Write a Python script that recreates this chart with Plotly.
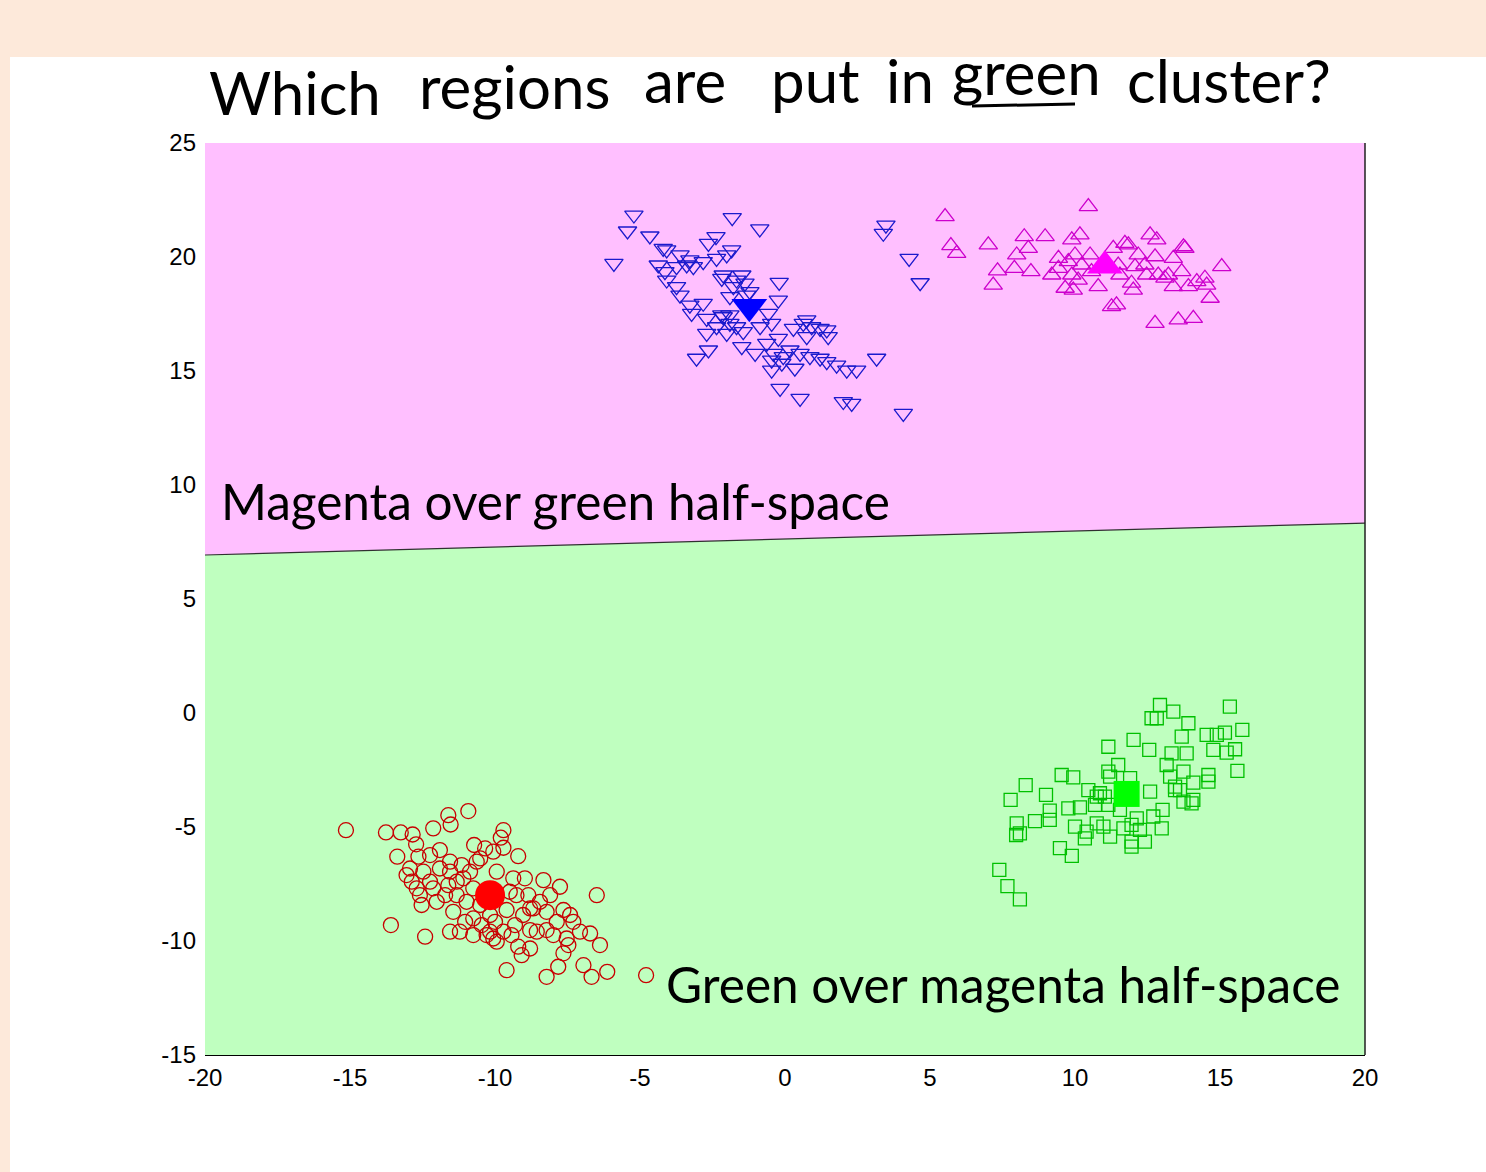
import plotly.graph_objects as go

# ---------------- data ----------------
x_ticks = [-20, -15, -10, -5, 0, 5, 10, 15, 20]
x_tick_labels = ["-20", "-15", "-10", "-5", "0", "5", "10", "15", "20"]
y_ticks = [-15, -10, -5, 0, 5, 10, 15, 20, 25]
y_tick_labels = ["-15", "-10", "-5", "0", "5", "10", "15", "20", "25"]

# decision boundary (magenta vs green half-spaces)
boundary_x = [-20, 20]
boundary_y = [6.93, 8.33]

blue_x = [-5.21, -5.43, -5.90, -4.66, -1.82, -0.87, 3.48, 3.39, 4.28, 4.66, -0.20, -0.23,
          -2.38, -2.64, -4.20, -4.08, -3.62, -3.28, -2.82, -1.84, -2.01, -2.36, -4.37, -4.14,
          -4.08, -3.74, -3.62, -3.28, -2.82, -3.22, -2.70, -2.18, -2.13, -1.49, -1.38, -1.21,
          -1.90, -2.13, -1.90, -1.67, -1.44, -2.36, -2.70, -2.01, -1.49, -1.03, -0.57, -0.46,
          -0.23, -0.63, -0.40, -0.46, -0.11, -0.46, -0.17, 0.34, 0.52, 0.29, 0.63, 0.75,
          0.92, 1.21, 1.44, 1.49, 0.75, 0.52, 0.86, 1.21, 1.44, 1.78, 2.13, 2.47,
          3.16, 2.01, 2.30, 4.08, -3.05, -2.64, -3.74, -3.39, -3.16, -1.67, -1.78, -1.32,
          -2.18, -1.90, -0.86, -0.06, 0.17]
blue_y = [21.84, 21.14, 19.72, 20.92, 21.73, 21.23, 21.40, 21.04, 19.94, 18.87, 18.89, 18.11,
          20.89, 20.60, 20.38, 20.31, 20.09, 19.87, 19.80, 20.31, 20.09, 19.94, 19.65, 19.36,
          18.99, 18.70, 18.33, 17.89, 17.97, 17.53, 17.31, 19.06, 19.21, 19.21, 18.85, 18.48,
          18.26, 17.38, 17.09, 16.94, 16.73, 16.94, 16.65, 16.65, 16.07, 15.77, 17.53, 17.09,
          16.43, 16.21, 15.77, 15.48, 15.34, 15.04, 14.24, 15.12, 13.80, 16.87, 17.09, 17.24,
          16.94, 16.87, 16.80, 16.51, 16.51, 15.77, 15.63, 15.56, 15.41, 15.26, 15.04, 15.04,
          15.56, 13.66, 13.58, 13.14, 15.56, 15.92, 19.58, 19.65, 19.58, 18.99, 18.70, 18.33,
          17.46, 17.46, 16.94, 15.63, 15.92]

magenta_x = [10.46, 5.52, 5.72, 5.92, 7.01, 7.33, 7.18, 8.25, 8.97, 8.39, 7.99, 7.91,
             8.48, 9.89, 10.17, 9.43, 9.20, 9.66, 9.94, 10.00, 10.52, 10.57, 10.80, 9.89,
             10.23, 11.32, 11.72, 11.84, 12.18, 12.59, 12.82, 12.76, 12.41, 12.07, 11.95, 12.01,
             11.49, 11.26, 11.43, 12.87, 13.22, 13.39, 13.74, 13.79, 13.68, 13.39, 13.91, 14.20,
             14.48, 14.54, 14.66, 15.06, 12.76, 13.56, 14.08, 9.43, 9.77, 10.11, 11.55, 12.47,
             13.10]
magenta_y = [22.21, 21.77, 20.50, 20.16, 20.53, 19.39, 18.77, 20.89, 20.89, 20.38, 20.09, 19.50,
             19.36, 20.75, 20.97, 19.94, 19.21, 18.63, 18.55, 20.09, 20.09, 19.36, 18.70, 19.21,
             19.65, 20.38, 20.60, 20.53, 20.09, 20.97, 20.75, 20.01, 19.65, 19.58, 18.85, 18.55,
             19.65, 17.82, 17.90, 19.21, 19.21, 19.94, 20.45, 20.38, 19.36, 18.70, 18.70, 18.92,
             19.07, 18.77, 18.19, 19.58, 17.09, 17.24, 17.31, 19.50, 19.80, 18.99, 19.21, 19.21,
             19.07]

green_x = [12.93, 12.64, 12.82, 13.39, 13.91, 13.68, 15.34, 15.17, 14.54, 14.89, 15.77, 14.77,
           15.23, 15.52, 15.60, 14.60, 14.60, 14.08, 14.02, 13.74, 13.45, 13.74, 13.33, 13.16,
           13.28, 13.45, 13.85, 12.02, 12.56, 11.15, 11.49, 11.15, 11.90, 12.59, 10.46, 10.86,
           10.69, 11.03, 9.54, 9.94, 8.30, 9.00, 7.78, 9.13, 9.13, 8.62, 7.99, 8.10,
           7.97, 9.77, 10.17, 10.00, 10.40, 10.34, 9.48, 9.89, 10.75, 10.98, 11.21, 11.67,
           11.95, 12.13, 12.24, 11.95, 11.95, 12.41, 12.70, 12.99, 13.02, 11.55, 11.15, 7.39,
           7.67, 8.10, 11.21, 10.75, 13.62, 14.08]
green_y = [0.35, -0.23, -0.23, 0.06, -0.45, -1.04, 0.28, -0.86, -0.96, -0.96, -0.74, -1.62,
           -1.74, -1.59, -2.54, -2.72, -3.01, -3.05, -3.96, -3.89, -3.38, -2.57, -1.77, -2.28,
           -2.79, -3.23, -1.77, -1.18, -1.62, -1.48, -2.28, -2.57, -2.86, -3.45, -3.38, -3.52,
           -4.03, -3.67, -2.72, -2.82, -3.16, -3.59, -3.81, -4.28, -4.69, -4.74, -4.84, -5.28,
           -5.35, -4.18, -4.14, -4.98, -5.20, -5.50, -5.93, -6.27, -4.84, -4.98, -5.42, -5.06,
           -4.91, -4.62, -5.13, -5.64, -5.86, -5.64, -4.54, -5.06, -4.25, -4.25, -4.03, -6.88,
           -7.59, -8.17, -2.79, -3.67, -3.38, -3.81]

red_x = [-15.14, -10.92, -11.61, -11.53, -12.13, -13.76, -13.25, -12.84, -12.72, -13.37, -9.71, -9.80,
         -9.71, -9.20, -10.72, -10.34, -11.90, -12.64, -12.93, -12.87, -12.59, -12.53, -12.24, -11.90,
         -11.55, -11.15, -10.86, -10.51, -11.32, -11.72, -12.01, -11.44, -10.98, -10.75, -11.03, -10.75,
         -11.55, -11.21, -10.75, -10.29, -10.06, -10.46, -10.00, -9.60, -9.26, -8.97, -8.85, -8.33,
         -7.76, -8.10, -8.45, -8.68, -9.03, -9.31, -9.71, -9.43, -8.79, -8.56, -8.22, -7.87,
         -7.64, -7.41, -7.30, -7.07, -6.72, -7.53, -7.47, -7.64, -6.38, -9.20, -8.79, -9.08,
         -9.94, -10.17, -6.49, -13.59, -12.41, -9.60, -8.22, -7.82, -6.95, -6.67, -6.13, -4.79,
         -12.24, -12.47, -11.55, -11.09, -12.13, -11.61, -11.32, -9.37, -9.49, -8.79, -8.22, -10.17,
         -10.51, -12.70, -13.05, -7.99, -10.63, -10.06, -9.94]
red_y = [-5.14, -4.30, -4.48, -4.89, -5.06, -5.24, -5.24, -5.33, -5.76, -6.30, -5.14, -5.47,
         -5.91, -6.28, -5.79, -5.94, -6.01, -6.30, -6.82, -7.40, -7.99, -8.42, -7.40, -6.82,
         -6.52, -6.67, -6.96, -6.38, -7.40, -7.99, -8.28, -8.72, -8.28, -7.69, -9.16, -9.01,
         -9.59, -9.59, -9.74, -9.74, -9.89, -9.30, -9.16, -8.64, -7.99, -7.25, -7.99, -7.33,
         -7.62, -7.99, -8.28, -8.57, -8.86, -9.30, -9.59, -9.74, -9.52, -9.59, -9.52, -9.16,
         -8.64, -8.86, -9.16, -9.59, -9.67, -9.89, -10.18, -10.54, -10.18, -10.25, -10.33, -10.62,
         -10.03, -9.59, -7.99, -9.30, -9.81, -11.28, -11.57, -11.13, -11.06, -11.57, -11.35, -11.50,
         -6.23, -6.96, -6.96, -7.25, -7.69, -7.55, -7.99, -7.25, -7.84, -8.57, -8.72, -8.86,
         -8.42, -7.69, -7.11, -9.74, -6.52, -6.08, -6.96]

# cluster centres (filled markers)
centre_names = ["red", "green", "blue", "magenta"]
centre_x = [-10.17, 11.78, -1.23, 11.03]
centre_y = [-7.99, -3.55, 17.82, 19.62]

title_words = ["Which", "regions", "are", "put", "in", "green", "cluster?"]

# ---------------- figure ----------------
W, H = 1486, 1172
L, R, T, B = 205, 121, 143, 117
PW, PH = W - L - R, H - T - B

def px(x):
    return (x - L) / PW

def py(y):
    return (H - B - y) / PH

X0, X1 = x_ticks[0], x_ticks[-1]
Y0, Y1 = y_ticks[0], y_ticks[-1]

fig = go.Figure()

# green half-space
fig.add_trace(go.Scatter(
    x=[X0, X1, boundary_x[1], boundary_x[0], X0],
    y=[Y0, Y0, boundary_y[1], boundary_y[0], Y0],
    fill="toself", fillcolor="#BFFFBF", mode="lines", line=dict(width=0),
    hoverinfo="skip", showlegend=False))
# magenta half-space
fig.add_trace(go.Scatter(
    x=[boundary_x[0], boundary_x[1], X1, X0, boundary_x[0]],
    y=[boundary_y[0], boundary_y[1], Y1, Y1, boundary_y[0]],
    fill="toself", fillcolor="#FFBFFF", mode="lines", line=dict(width=0),
    hoverinfo="skip", showlegend=False))
# boundary line
fig.add_trace(go.Scatter(x=boundary_x, y=boundary_y, mode="lines",
                         line=dict(color="#303030", width=1.2),
                         hoverinfo="skip", showlegend=False))

def pts(x, y, symbol, color, size):
    fig.add_trace(go.Scatter(
        x=x, y=y, mode="markers", showlegend=False,
        marker=dict(symbol=symbol, size=size, color="rgba(0,0,0,0)",
                    line=dict(color=color, width=1.3))))

pts(red_x, red_y, "circle", "#C80000", 15)
pts(green_x, green_y, "square", "#00C000", 13)
pts(blue_x, blue_y, "triangle-down", "#1A1ACC", 16)
pts(magenta_x, magenta_y, "triangle-up", "#CC00CC", 16)

centre_symbols = ["circle", "square", "triangle-down", "triangle-up"]
centre_colors = ["#FF0000", "#00FF00", "#0000FF", "#FF00FF"]
centre_sizes = [30, 26, 31, 31]
for i in range(len(centre_names)):
    fig.add_trace(go.Scatter(
        x=[centre_x[i]], y=[centre_y[i]], mode="markers", showlegend=False,
        marker=dict(symbol=centre_symbols[i], size=centre_sizes[i],
                    color=centre_colors[i], line=dict(width=0))))

tick_font = dict(family="Liberation Sans, Arial, sans-serif", size=24, color="black")
fig.update_xaxes(range=[X0, X1], tickvals=x_ticks, ticktext=x_tick_labels,
                 showgrid=False, zeroline=False, showline=True, linecolor="black",
                 linewidth=1, ticks="", tickfont=tick_font, ticklabelstandoff=1)
fig.update_yaxes(range=[Y0, Y1], tickvals=y_ticks, ticktext=y_tick_labels,
                 showgrid=False, zeroline=False, showline=False, ticks="",
                 tickfont=tick_font, ticklabelstandoff=8)

shapes = [
    # right frame line
    dict(type="line", xref="paper", yref="paper", x0=1, x1=1, y0=0, y1=1,
         line=dict(color="#202020", width=1.5)),
    # peach slide band (top) and strip (left)
    dict(type="rect", xref="paper", yref="paper", x0=px(0), x1=px(W), y0=py(57), y1=py(0),
         fillcolor="#FDE9DA", line=dict(width=0), layer="below"),
    dict(type="rect", xref="paper", yref="paper", x0=px(0), x1=px(10), y0=py(H), y1=py(57),
         fillcolor="#FDE9DA", line=dict(width=0), layer="below"),
    # underline of "green"
    dict(type="line", xref="paper", yref="paper", x0=px(972), x1=px(1075), y0=py(106), y1=py(104),
         line=dict(color="black", width=3)),
]

annotations = [
    dict(text="Magenta over green half-space", x=px(219), y=py(501), xref="paper", yref="paper",
         xanchor="left", yanchor="middle", showarrow=False,
         font=dict(family="Lato, sans-serif", size=49.5, color="black")),
    dict(text="Green over magenta half-space", x=px(664), y=py(984), xref="paper", yref="paper",
         xanchor="left", yanchor="middle", showarrow=False,
         font=dict(family="Lato, sans-serif", size=49.5, color="black")),
]

title_centres_x = [295, 514, 685, 815, 910, 1026, 1229]
title_centres_y = [92, 86, 80, 80, 80, 72, 80]
for w, cx, cy in zip(title_words, title_centres_x, title_centres_y):
    annotations.append(dict(text=w, x=px(cx), y=py(cy), xref="paper", yref="paper",
                            xanchor="center", yanchor="middle", showarrow=False,
                            font=dict(family="Lato, sans-serif", size=60, color="black")))

fig.update_layout(
    width=W, height=H,
    margin=dict(l=L, r=R, t=T, b=B),
    paper_bgcolor="white", plot_bgcolor="white",
    shapes=shapes, annotations=annotations, showlegend=False,
)

fig.write_html("out.html", config={"displayModeBar": False},
               post_script="document.body.style.margin='0';document.body.style.overflow='hidden';")
